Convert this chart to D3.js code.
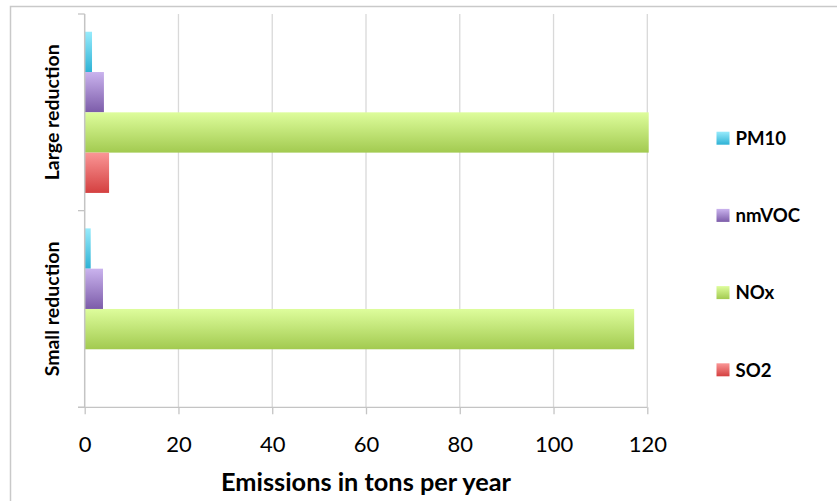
<!DOCTYPE html>
<html>
<head>
<meta charset="utf-8">
<script src="https://cdn.jsdelivr.net/npm/d3@7/dist/d3.min.js"></script>
<style>
  html, body { margin: 0; padding: 0; background: #ffffff; }
  svg { display: block; font-family: Lato, "Open Sans", sans-serif; }
</style>
</head>
<body>
<svg id="chart" width="837" height="501"></svg>
<script>
// Emission scenarios (categories, top to bottom)
const categories = ["Large reduction", "Small reduction"];
// Pollutants, in the order they are stacked inside each category band
const seriesNames = ["PM10", "nmVOC", "NOx", "SO2"];
// Emissions in tons per year, one value per category
const pm10  = [1.56, 1.28];
const nmvoc = [4.1, 3.9];
const nox   = [120.3, 117.2];
const so2   = [5.2, 0];
const xTicks = [0, 20, 40, 60, 80, 100, 120];

const seriesValues = { PM10: pm10, nmVOC: nmvoc, NOx: nox, SO2: so2 };
const gradientStops = {
  PM10:  ["#97ebfc", "#2eb2d5"],
  nmVOC: ["#cab3ee", "#7c5ca9"],
  NOx:   ["#defd9c", "#a2ca50"],
  SO2:   ["#fa9696", "#d44040"]
};

const svg = d3.select("#chart");

// Outer chart frame
svg.append("rect")
  .attr("x", 10.5).attr("y", 6.5)
  .attr("width", 900).attr("height", 600)
  .attr("fill", "#ffffff")
  .attr("stroke", "#c9c9c9").attr("stroke-width", 1.5);

const x = d3.scaleLinear().domain([0, 120]).range([84.7, 647.3]);
const y = d3.scaleBand().domain(categories).range([14, 407.3]);
const ySeries = d3.scaleBand().domain(seriesNames)
  .range([0, y.bandwidth()]).paddingInner(0).paddingOuter(0.44);

// Vertical gradients for bars and legend keys
const defs = svg.append("defs");
seriesNames.forEach(name => {
  const g = defs.append("linearGradient")
    .attr("id", "grad-" + name)
    .attr("x1", 0).attr("y1", 0).attr("x2", 0).attr("y2", 1);
  g.append("stop").attr("offset", "0%").attr("stop-color", gradientStops[name][0]);
  g.append("stop").attr("offset", "100%").attr("stop-color", gradientStops[name][1]);
});

// Gridlines
svg.append("g")
  .selectAll("line")
  .data(xTicks.filter(t => t > 0))
  .join("line")
  .attr("x1", d => x(d)).attr("x2", d => x(d))
  .attr("y1", y.range()[0]).attr("y2", y.range()[1])
  .attr("stroke", "#d9d9d9").attr("stroke-width", 1.3);

// Bars
const groups = svg.append("g")
  .selectAll("g")
  .data(categories)
  .join("g")
  .attr("transform", d => `translate(0,${y(d)})`);

groups.selectAll("rect")
  .data((cat, i) => seriesNames.map(s => ({ s, v: seriesValues[s][i] })))
  .join("rect")
  .attr("x", x(0))
  .attr("y", d => ySeries(d.s))
  .attr("width", d => x(d.v) - x(0))
  .attr("height", ySeries.bandwidth())
  .attr("fill", d => `url(#grad-${d.s})`);

// Bottom axis
const xAxis = svg.append("g")
  .attr("transform", `translate(0,${y.range()[1]})`)
  .call(d3.axisBottom(x).tickValues(xTicks).tickSizeInner(7).tickSizeOuter(0).tickPadding(22));
xAxis.select(".domain").remove();
xAxis.append("line")
  .attr("x1", 78).attr("x2", x(120))
  .attr("stroke", "#c4c4c4").attr("stroke-width", 1.3);
xAxis.selectAll(".tick line").attr("stroke", "#c4c4c4").attr("stroke-width", 1.3);
xAxis.selectAll(".tick text")
  .attr("fill", "#000000")
  .attr("font-family", "Lato, sans-serif")
  .attr("font-size", 22);

// Left axis with category separators
const leftAxis = svg.append("g");
leftAxis.append("line")
  .attr("x1", x(0)).attr("x2", x(0))
  .attr("y1", y.range()[0]).attr("y2", y.range()[1])
  .attr("stroke", "#c4c4c4").attr("stroke-width", 1.5);
const boundaries = categories.map(c => y(c)).concat([y.range()[1]]);
leftAxis.selectAll("line.sep")
  .data(boundaries)
  .join("line")
  .attr("class", "sep")
  .attr("x1", 78).attr("x2", x(0))
  .attr("y1", d => d).attr("y2", d => d)
  .attr("stroke", "#c4c4c4").attr("stroke-width", 1.3);

// Category labels, rotated
leftAxis.selectAll("text")
  .data(categories)
  .join("text")
  .attr("transform", d => `translate(59,${y(d) + y.bandwidth() / 2}) rotate(-90)`)
  .attr("text-anchor", "middle")
  .attr("font-weight", "bold")
  .attr("font-size", 19.5)
  .attr("fill", "#000000")
  .text(d => d);

// Axis title
svg.append("text")
  .attr("x", (x(0) + x(120)) / 2)
  .attr("y", 491)
  .attr("text-anchor", "middle")
  .attr("font-weight", "bold")
  .attr("font-size", 25.3)
  .attr("fill", "#000000")
  .text("Emissions in tons per year");

// Legend
const legendY = d3.scalePoint().domain(seriesNames).range([138.2, 369.8]);
const legend = svg.append("g")
  .selectAll("g")
  .data(seriesNames)
  .join("g")
  .attr("transform", d => `translate(716.5,${legendY(d)})`);
legend.append("rect")
  .attr("x", 0).attr("y", -6.5)
  .attr("width", 13).attr("height", 13)
  .attr("fill", d => `url(#grad-${d})`);
legend.append("text")
  .attr("x", 19).attr("y", 6.8)
  .attr("font-weight", "bold")
  .attr("font-size", 18.6)
  .attr("fill", "#000000")
  .text(d => d);
</script>
</body>
</html>
